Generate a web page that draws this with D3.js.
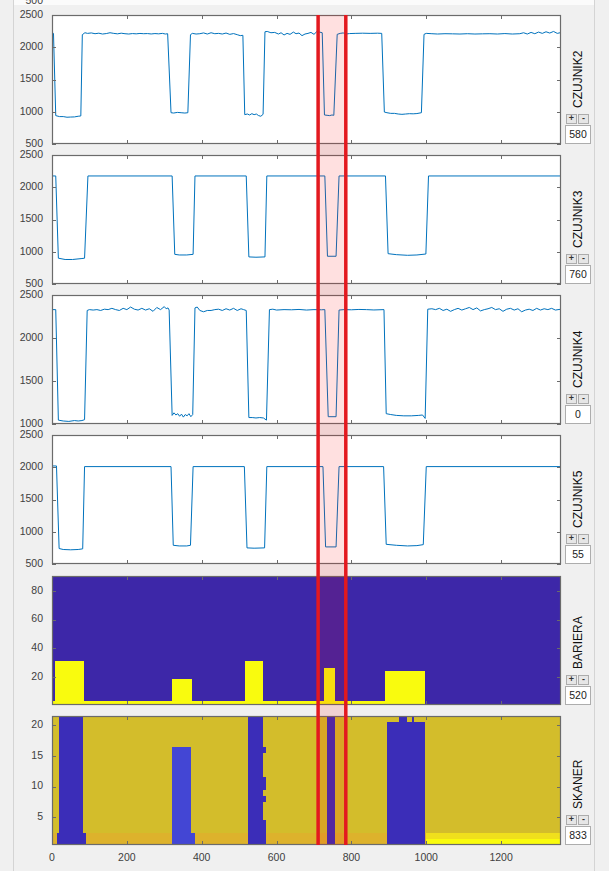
<!DOCTYPE html>
<html><head><meta charset="utf-8">
<script src="https://cdn.jsdelivr.net/npm/d3@7"></script>
<style>
body{margin:0;background:#f0f0f0;}
svg{display:block;font-family:"Liberation Sans",Arial,sans-serif;}
</style>
</head><body>
<svg id="chart" width="609" height="871"></svg>
<script>
// ---------------- DATA ----------------
const xDomain = [0, 1360];
const xTicks = [0, 200, 400, 600, 800, 1000, 1200];
const panelNames = ["CZUJNIK2", "CZUJNIK3", "CZUJNIK4", "CZUJNIK5", "BARIERA", "SKANER"];
const panelCounters = ["580", "760", "0", "55", "520", "833"];
const lineYDomains = [[500, 2500], [500, 2500], [1000, 2500], [500, 2500]];
const lineYTicks = [[500, 1000, 1500, 2000, 2500], [500, 1000, 1500, 2000, 2500], [1000, 1500, 2000, 2500], [500, 1000, 1500, 2000, 2500]];
const selection = [711, 785];

const czujnik2 = [
  [0,2220],[4,2215],[10,940],[20,925],[30,925],[40,915],[50,918],[60,920],[70,930],[77,935],
  [81,2195],[88,2225],[95,2215],[105,2222],[115,2210],[125,2218],[135,2205],[145,2212],[155,2225],[165,2215],
  [175,2208],[185,2218],[195,2210],[205,2205],[215,2212],[225,2208],[235,2214],[245,2210],[255,2212],[265,2206],
  [275,2212],[285,2208],[295,2215],[303,2205],[309,2210],
  [318,985],[325,980],[335,990],[345,985],[355,980],[363,985],
  [370,2195],[375,2215],[385,2205],[395,2210],[405,2222],[415,2205],[425,2225],[435,2210],[445,2215],[455,2205],
  [465,2220],[475,2200],[485,2212],[495,2195],[503,2180],[510,2185],
  [515,955],[522,965],[528,950],[534,970],[540,955],[546,965],[552,940],[558,930],[564,960],
  [569,2240],[575,2245],[585,2225],[595,2230],[605,2205],[612,2225],[620,2190],[628,2215],[636,2200],[645,2235],
  [652,2210],[660,2220],[668,2180],[676,2205],[684,2215],[692,2230],[700,2200],[708,2245],[715,2235],[722,2225],
  [728,950],[735,945],[742,940],[748,950],[753,945],
  [762,2200],[770,2215],[778,2222],[785,2205],[795,2212],[810,2215],[830,2218],[850,2215],[870,2218],[881,2215],
  [888,995],[895,985],[905,975],[915,975],[925,965],[935,960],[945,965],[955,970],[965,968],[975,972],[987,985],
  [994,2200],[1000,2215],[1015,2210],[1030,2205],[1050,2210],[1070,2208],[1090,2205],[1110,2210],[1130,2205],[1150,2208],
  [1170,2210],[1190,2205],[1210,2212],[1230,2205],[1250,2210],[1260,2225],[1270,2205],[1280,2230],[1290,2210],[1300,2235],
  [1310,2215],[1320,2240],[1330,2220],[1340,2245],[1350,2215],[1360,2228]
];
const czujnik3 = [
  [0,2175],[10,2175],[17,900],[35,880],[55,880],[80,895],[87,900],[96,2175],[321,2175],
  [328,960],[340,950],[360,950],[377,960],[382,2175],[519,2175],
  [526,920],[545,915],[569,920],[574,2175],[729,2175],
  [736,930],[759,930],[767,2175],[891,2175],
  [898,970],[920,955],[950,945],[975,950],[999,965],[1006,2175],[1360,2175]
];
const czujnik4 = [
  [0,2330],[10,2330],[17,1045],[30,1035],[45,1030],[60,1040],[70,1035],[80,1040],[87,1050],
  [94,2320],[100,2330],[110,2325],[120,2330],[130,2320],[140,2335],[150,2330],[160,2345],[170,2330],[180,2320],
  [190,2345],[200,2330],[210,2360],[220,2335],[230,2325],[240,2345],[250,2325],[260,2340],[270,2310],[280,2355],
  [290,2330],[300,2365],[305,2340],[310,2350],[313,2325],
  [321,1100],[326,1130],[331,1105],[336,1120],[341,1090],[346,1115],[351,1080],[356,1110],[361,1095],[366,1120],[371,1085],[376,1110],
  [382,2350],[388,2360],[395,2320],[405,2305],[415,2320],[425,2320],[435,2330],[445,2335],[455,2320],[465,2340],
  [475,2325],[485,2345],[495,2320],[505,2340],[512,2330],[519,2320],
  [526,1075],[535,1075],[545,1070],[555,1075],[565,1070],[573,1045],
  [581,2330],[590,2335],[600,2325],[620,2330],[640,2328],[660,2332],[680,2325],[700,2330],[720,2328],[729,2330],
  [738,1085],[759,1085],
  [767,2325],[780,2330],[800,2328],[820,2332],[840,2330],[860,2326],[887,2330],
  [893,1120],[905,1110],[920,1100],[940,1095],[960,1095],[980,1100],[990,1105],[997,1065],
  [1004,2335],[1015,2340],[1025,2330],[1035,2345],[1045,2320],[1055,2335],[1065,2310],[1075,2330],[1085,2345],[1095,2325],
  [1105,2340],[1115,2355],[1125,2330],[1135,2350],[1145,2315],[1155,2330],[1165,2340],[1175,2355],[1185,2330],[1195,2340],
  [1205,2310],[1215,2335],[1225,2345],[1235,2325],[1245,2340],[1255,2305],[1265,2325],[1275,2335],[1285,2320],[1295,2345],
  [1305,2325],[1315,2340],[1325,2330],[1335,2345],[1345,2325],[1360,2335]
];
const czujnik5 = [
  [0,2020],[12,2020],[19,740],[30,725],[50,720],[70,725],[82,735],[87,2010],[318,2010],
  [324,790],[340,780],[360,780],[370,790],[377,2010],[514,2010],
  [521,750],[540,745],[568,750],[574,2010],[724,2010],
  [731,765],[759,765],[767,2010],[886,2010],
  [893,805],[920,790],[950,780],[975,785],[992,800],[1000,2010],[1360,2010]
];

// heatmap blocks: [x0, x1, y0, y1, value]
const barieraRows = [0.5, 90.5];
const barieraTicks = [20, 40, 60, 80];
const barieraBlocks = [
  [0,1360,0.5,90.5,0],
  [0,996,0.5,3.5,1],
  [219,355,0.5,1.5,0],[638,762,0.5,1.5,0],
  [8,85,0.5,31.5,1],
  [320,375,0.5,18.5,1],
  [517,564,0.5,31.5,1],
  [727,757,0.5,26.5,1],
  [890,996,0.5,24.5,1]
];
const skanerRows = [0.5, 21.5];
const skanerTicks = [5, 10, 15, 20];
const skanerBlocks = [
  [0,1360,0.5,21.5,0.8],
  [0,1000,0.5,2.5,0.85],
  [1000,1360,1.5,2.5,0.93],[1000,1360,0.5,1.5,1],
  [19,84,2.5,21.5,0],[14,91,0.5,2.5,0],
  [320,372,2.5,16.5,0.05],[320,381,0.5,2.5,0.05],
  [524,564,0.5,21.5,0],[564,573,15.5,16.5,0],[564,573,9.5,11.5,0],[564,573,7.5,8.5,0],[564,573,0.5,4.5,0],
  [735,757,0.5,21.5,0],
  [895,996,0.5,20.5,0],[927,948,20.5,21.5,0],[961,967,20.5,21.5,0]
];

// ---------------- LAYOUT ----------------
const svg = d3.select("#chart");
const L = 52, R = 561, H = 129;
const tops = [15, 155, 295, 435, 576, 716];
const x = d3.scaleLinear().domain(xDomain).range([L, R]);
const axisColor = "#6b6b6b", textColor = "#404040";

// frame of the figure panel
svg.append("rect").attr("x", 13).attr("y", 0).attr("width", 581).attr("height", 5).attr("fill", "#fbfbfb");
svg.append("line").attr("x1", 13.5).attr("x2", 13.5).attr("y1", 0).attr("y2", 871).attr("stroke", "#d4d4d4");
svg.append("line").attr("x1", 594.5).attr("x2", 594.5).attr("y1", 0).attr("y2", 871).attr("stroke", "#d4d4d4");
svg.append("text").attr("x", 43).attr("y", 1).attr("text-anchor", "end").attr("dominant-baseline", "middle")
  .attr("font-size", 10.5).attr("fill", textColor).text("500");

const defs = svg.append("defs");

function drawFrame(g, top, y, yTicks, showX) {
  const bottom = top + H;
  const tk = 4;
  yTicks.forEach(v => {
    const yy = Math.round(y(v)) + 0.5;
    g.append("line").attr("x1", L).attr("x2", L + tk).attr("y1", yy).attr("y2", yy).attr("stroke", axisColor);
    g.append("line").attr("x1", R - tk).attr("x2", R).attr("y1", yy).attr("y2", yy).attr("stroke", axisColor);
    g.append("text").attr("x", 43).attr("y", y(v)).attr("text-anchor", "end").attr("dominant-baseline", "middle")
      .attr("font-size", 10.5).attr("fill", textColor).text(v);
  });
  xTicks.forEach(v => {
    const xx = Math.round(x(v)) + 0.5;
    g.append("line").attr("x1", xx).attr("x2", xx).attr("y1", top).attr("y2", top + tk).attr("stroke", axisColor);
    g.append("line").attr("x1", xx).attr("x2", xx).attr("y1", bottom - tk).attr("y2", bottom).attr("stroke", axisColor);
    if (showX) g.append("text").attr("x", x(v)).attr("y", bottom + 13).attr("text-anchor", "middle")
      .attr("dominant-baseline", "middle").attr("font-size", 10.5).attr("fill", textColor).text(v);
  });
  g.append("rect").attr("x", L + 0.5).attr("y", top + 0.5).attr("width", R - L - 1).attr("height", H - 1)
    .attr("fill", "none").attr("stroke", axisColor).attr("stroke-width", 1.2);
}

function drawSide(i, top) {
  const bottom = top + H;
  const g = svg.append("g");
  g.append("text").attr("transform", `translate(581.5,${bottom - 36}) rotate(-90)`).attr("font-size", 12)
    .attr("fill", "#111").text(panelNames[i]);
  [["+", 566], ["-", 578]].forEach(([s, bx]) => {
    g.append("rect").attr("x", bx + 0.5).attr("y", bottom - 30 + 0.5).attr("width", 10).attr("height", 9)
      .attr("fill", "#e6e6e6").attr("stroke", "#acacac");
    g.append("text").attr("x", bx + 5.5).attr("y", bottom - 25).attr("text-anchor", "middle")
      .attr("dominant-baseline", "middle").attr("font-size", 9).attr("font-weight", "bold").attr("fill", "#333").text(s);
  });
  g.append("rect").attr("x", 565.5).attr("y", bottom - 18.5).attr("width", 25).attr("height", 18)
    .attr("fill", "#fff").attr("stroke", "#adadad");
  g.append("text").attr("x", 578).attr("y", bottom - 9).attr("text-anchor", "middle")
    .attr("dominant-baseline", "middle").attr("font-size", 10.5).attr("fill", "#222").text(panelCounters[i]);
}

// line panels
const lineSeries = [czujnik2, czujnik3, czujnik4, czujnik5];
lineSeries.forEach((data, i) => {
  const top = tops[i];
  const y = d3.scaleLinear().domain(lineYDomains[i]).range([top + H, top]);
  const g = svg.append("g");
  const cid = "clip" + i;
  defs.append("clipPath").attr("id", cid).append("rect").attr("x", L).attr("y", top).attr("width", R - L).attr("height", H);
  g.append("rect").attr("x", L).attr("y", top).attr("width", R - L).attr("height", H).attr("fill", "#fff");
  g.append("path").datum(data).attr("clip-path", `url(#${cid})`)
    .attr("d", d3.line().x(d => x(d[0])).y(d => y(d[1])))
    .attr("fill", "none").attr("stroke", "#0072bd").attr("stroke-width", 1);
  drawFrame(g, top, y, lineYTicks[i], false);
  drawSide(i, top);
});

// heatmap panels
const heatmaps = [
  {blocks: barieraBlocks, rows: barieraRows, ticks: barieraTicks,
   color: d3.scaleLinear().domain([0, 1]).range(["#3d27a8", "#f9fb0e"])},
  {blocks: skanerBlocks, rows: skanerRows, ticks: skanerTicks,
   color: d3.scaleLinear().domain([0, 0.05, 0.8, 0.85, 0.93, 1])
     .range(["#3b2db8", "#4346d4", "#d3bd2b", "#ddb22c", "#f0e01c", "#f9fb0e"])}
];
heatmaps.forEach((hm, k) => {
  const i = 4 + k;
  const top = tops[i];
  const y = d3.scaleLinear().domain(hm.rows).range([top + H, top]);
  const g = svg.append("g");
  const cid = "clip" + i;
  defs.append("clipPath").attr("id", cid).append("rect").attr("x", L).attr("y", top).attr("width", R - L).attr("height", H);
  g.append("g").attr("clip-path", `url(#${cid})`).selectAll("rect").data(hm.blocks).join("rect")
    .attr("x", d => x(d[0])).attr("width", d => x(d[1]) - x(d[0]))
    .attr("y", d => y(d[3])).attr("height", d => y(d[2]) - y(d[3]))
    .attr("fill", d => hm.color(d[4])).attr("shape-rendering", "crispEdges");
  drawFrame(g, top, y, hm.ticks, i === 5);
  drawSide(i, top);
});

// selection band
svg.append("rect").attr("x", x(selection[0])).attr("y", tops[0]).attr("width", x(selection[1]) - x(selection[0]))
  .attr("height", tops[5] + H - tops[0]).attr("fill", "rgba(255,0,0,0.12)");
selection.forEach(v => {
  svg.append("line").attr("x1", x(v)).attr("x2", x(v)).attr("y1", tops[0]).attr("y2", tops[5] + H)
    .attr("stroke", "#e3191f").attr("stroke-width", 3.5);
});
</script>
</body></html>
